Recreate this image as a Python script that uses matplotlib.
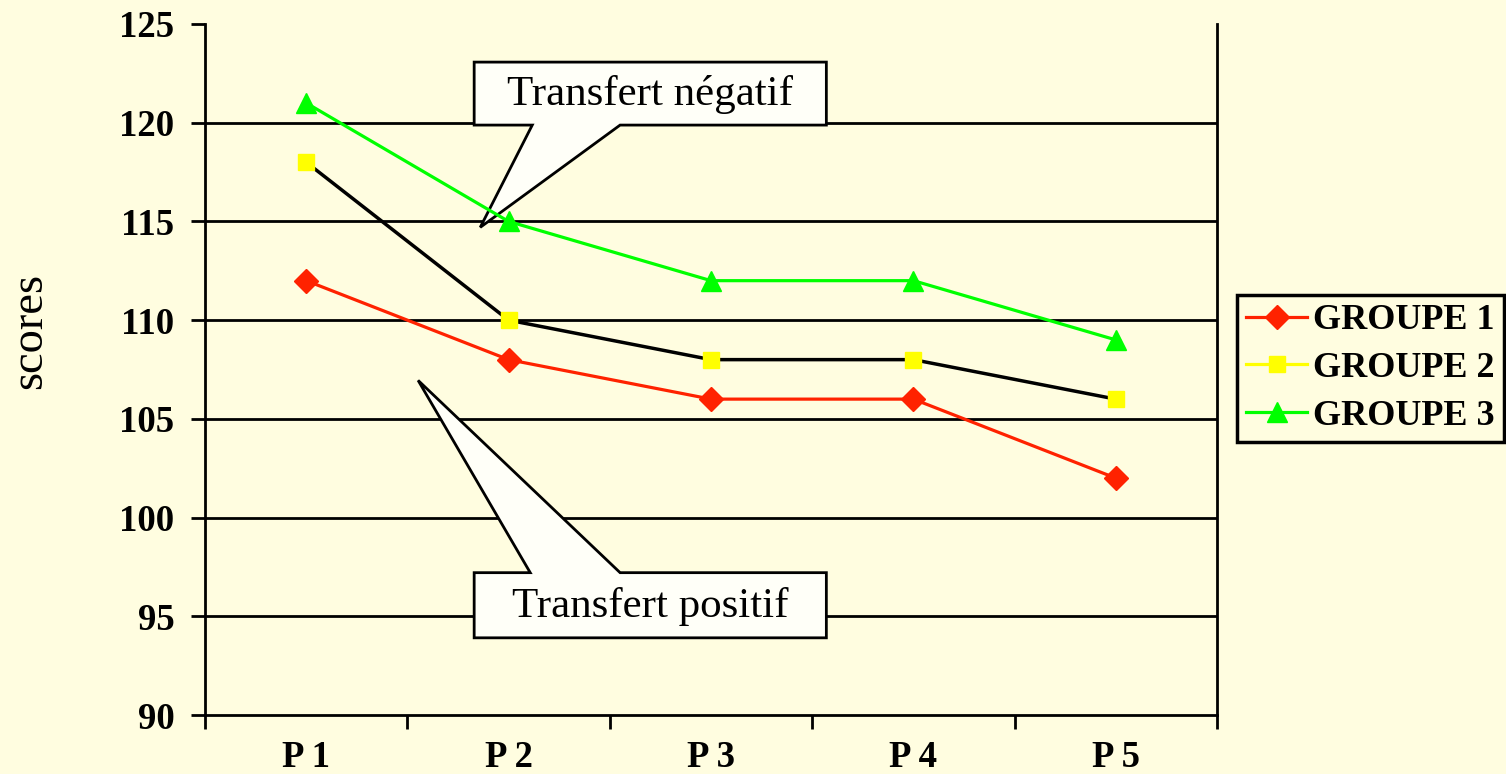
import matplotlib
matplotlib.use("Agg")
import matplotlib.pyplot as plt
from matplotlib.patches import Polygon
from matplotlib.lines import Line2D
import numpy as np

# data
periodes = ["P 1", "P 2", "P 3", "P 4", "P 5"]
groupe1 = [112, 108, 106, 106, 102]
groupe2 = [118, 110, 108, 108, 106]
groupe3 = [121, 115, 112, 112, 109]

bg = "#FFFDE0"
plt.rcParams["font.family"] = ["Liberation Serif", "DejaVu Serif"]

fig = plt.figure(figsize=(15.06, 7.74), dpi=100, facecolor=bg)
ax = fig.add_axes([0.1361, 0.0762, 0.672, 0.8928])
ax.set_facecolor(bg)

x = np.arange(len(periodes))
ax.plot(x, groupe1, color="#FF2200", lw=2.3, marker="D", ms=12,
        mfc="#FF2200", mec="#FF2200", zorder=4)
ax.plot(x, groupe2, color="black", lw=2.5, marker="s", ms=12,
        mfc="#FFFF00", mec="#FFFF00", zorder=4)
ax.plot(x, groupe3, color="#00FF00", lw=2.3, marker="^", ms=14,
        mfc="#00FF00", mec="#00FF00", zorder=4)

ax.set_xlim(-0.5, len(periodes) - 0.5)
ax.set_ylim(90, 125)
ax.set_yticks(np.arange(90, 126, 5))
ax.set_xticks(x)
ax.set_xticklabels(periodes)
ax.set_xticks(np.arange(-0.5, len(periodes), 1), minor=True)
ax.tick_params(axis="x", which="major", length=0, pad=18)
ax.tick_params(axis="x", which="minor", length=10, width=2, direction="out")
ax.tick_params(axis="y", length=10, width=2, direction="out", pad=12)
for lab in ax.get_xticklabels() + ax.get_yticklabels():
    lab.set_fontsize(26.5)
    lab.set_fontweight("bold")

for yv in range(95, 125, 5):
    ax.axhline(yv, color="black", lw=2, zorder=1)

ax.spines["top"].set_visible(False)
for s in ["left", "bottom", "right"]:
    ax.spines[s].set_linewidth(2)

ax.set_ylabel("scores", fontsize=33.5)
ax.yaxis.set_label_coords(-0.152, 0.556)

# bulles
bulle_neg = [(0.83, 123.07), (2.57, 123.07), (2.57, 119.88), (1.551, 119.88),
             (0.86, 114.7), (1.117, 119.88), (0.83, 119.88)]
bulle_pos = [(0.83, 97.21), (1.107, 97.21), (0.553, 106.95), (1.551, 97.21),
             (2.57, 97.21), (2.57, 93.91), (0.83, 93.91)]
for pts in (bulle_neg, bulle_pos):
    ax.add_patch(Polygon(pts, closed=True, facecolor="#FFFFF8",
                         edgecolor="black", lw=2, zorder=3, clip_on=False))
ax.text(1.7, 121.45, "Transfert négatif", fontsize=31, ha="center",
        va="center", zorder=5)
ax.text(1.7, 95.5, "Transfert positif", fontsize=31, ha="center",
        va="center", zorder=5)

handles = [
    Line2D([], [], color="#FF2200", lw=2.3, marker="D", ms=12,
           mfc="#FF2200", mec="#FF2200"),
    Line2D([], [], color="#FFFF00", lw=2.3, marker="s", ms=12,
           mfc="#FFFF00", mec="#FFFF00"),
    Line2D([], [], color="#00FF00", lw=2.3, marker="^", ms=14,
           mfc="#00FF00", mec="#00FF00"),
]
leg = fig.legend(handles, ["GROUPE 1", "GROUPE 2", "GROUPE 3"],
                 loc="upper left", bbox_to_anchor=(0.8214, 0.6189),
                 prop={"size": 26, "weight": "bold"}, fancybox=False,
                 framealpha=1, facecolor=bg, edgecolor="black",
                 handlelength=1.7, handletextpad=0.15, borderpad=0.25,
                 labelspacing=0.4, borderaxespad=0)
leg.get_frame().set_linewidth(2.5)

fig.savefig("out.png", dpi=100, facecolor=bg)
